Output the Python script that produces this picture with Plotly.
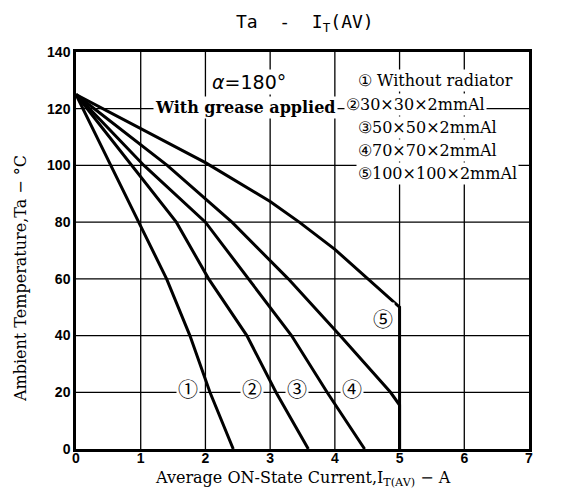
import plotly.graph_objects as go

# ---- data ----
c1_x = [0, 0.54, 0.98, 1.40, 1.76, 2.07, 2.43]
c1_y = [125, 100, 80, 60, 40, 20, 0]
c2_x = [0, 0.86, 1.55, 2.05, 2.64, 3.09, 3.59]
c2_y = [125, 100, 80, 60, 40, 20, 0]
c3_x = [0, 1.05, 2.00, 2.67, 3.33, 3.88, 4.46]
c3_y = [125, 100, 80, 60, 40, 20, 0]
c4_x = [0, 1.41, 2.41, 3.28, 4.08, 4.86, 5.0, 5.0]
c4_y = [125, 100, 80, 60, 40, 20, 15.5, 0]
c5_x = [0, 2.0, 3.0, 3.45, 4.0, 5.0, 5.0]
c5_y = [125, 101, 87.3, 80, 70.4, 50, 0]

curve_labels = ["①", "②", "③", "④", "⑤"]
label_x = [1.73, 2.72, 3.42, 4.27, 4.75]
label_y = [21.5, 21.5, 21.5, 21.5, 46]

legend_lines = ["① Without radiator", "②30×30×2mmAl", "③50×50×2mmAl",
                "④70×70×2mmAl", "⑤100×100×2mmAl"]

x_ticks = [0, 1, 2, 3, 4, 5, 6, 7]
y_ticks = [0, 20, 40, 60, 80, 100, 120, 140]

W, H = 563, 493
L, R, T, B = 68, 42, 44, 52
PW, PH = W - L - R, H - T - B


def px(xp):
    return (xp - L) / PW


def py(yp):
    return (H - B - yp) / PH


fig = go.Figure()
for xs, ys in [(c1_x, c1_y), (c2_x, c2_y), (c3_x, c3_y), (c4_x, c4_y), (c5_x, c5_y)]:
    fig.add_trace(go.Scatter(x=xs, y=ys, mode="lines",
                             line=dict(color="black", width=3),
                             showlegend=False, hoverinfo="skip"))

# grid lines at the tick positions
shapes = []
for xv in x_ticks[1:-1]:
    shapes.append(dict(type="line", xref="x", yref="y", x0=xv, x1=xv,
                       y0=y_ticks[0], y1=y_ticks[-1], layer="below",
                       line=dict(color="black", width=1.3)))
for yv in y_ticks[1:-1]:
    shapes.append(dict(type="line", xref="x", yref="y", x0=x_ticks[0], x1=x_ticks[-1],
                       y0=yv, y1=yv, layer="below",
                       line=dict(color="black", width=1.3)))

serif = "DejaVu Serif"
ann = []
# curve labels
for t, xv, yv in zip(curve_labels, label_x, label_y):
    ann.append(dict(x=xv, y=yv, xref="x", yref="y", text=t, showarrow=False,
                    xanchor="center", yanchor="middle",
                    font=dict(family="Noto Sans CJK JP", size=20, color="black"),
                    bgcolor="white", borderpad=1))

# alpha text
ann.append(dict(x=px(202), y=py(74), xref="paper", yref="paper",
                xanchor="left", yanchor="middle",
                text="<i>α</i>=180°", showarrow=False, bgcolor="white",
                font=dict(family="DejaVu Sans", size=19, color="black")))
ann.append(dict(x=px(145), y=py(99), xref="paper", yref="paper",
                xanchor="left", yanchor="middle",
                text="<b>With grease applied</b>", showarrow=False, bgcolor="white",
                font=dict(family=serif, size=16, color="black")))
leg_y = [73, 96, 119, 142, 165]
leg_x = [348, 336, 348, 348, 348]
for t, xx, yy in zip(legend_lines, leg_x, leg_y):
    ann.append(dict(x=px(xx), y=py(yy), xref="paper", yref="paper",
                    xanchor="left", yanchor="middle",
                    text=t, showarrow=False, bgcolor="white", borderpad=1,
                    font=dict(family=serif, size=16, color="black")))

# title
ann.append(dict(x=px(297), y=py(15), xref="paper", yref="paper",
                xanchor="center", yanchor="middle",
                text="Ta  -  I<sub>T</sub>(AV)", showarrow=False,
                font=dict(family="DejaVu Sans Mono", size=18, color="black")))
# axis titles
ann.append(dict(x=px(295), y=py(470), xref="paper", yref="paper",
                xanchor="center", yanchor="middle",
                text="Average ON-State Current,I<sub>T(AV)</sub> − A", showarrow=False,
                font=dict(family=serif, size=16, color="black")))
ann.append(dict(x=px(12), y=py(271), xref="paper", yref="paper",
                xanchor="center", yanchor="middle", textangle=-90,
                text="Ambient Temperature,Ta − °C", showarrow=False,
                font=dict(family=serif, size=16, color="black")))

fig.update_layout(
    template="none",
    width=W, height=H,
    margin=dict(l=L, r=R, t=T, b=B),
    paper_bgcolor="white", plot_bgcolor="white",
    annotations=ann, shapes=shapes,
    showlegend=False,
)
axis_common = dict(showgrid=False,
                   showline=True, linecolor="black", linewidth=2.5, mirror=True,
                   zeroline=False, ticks="",
                   tickfont=dict(family="Liberation Sans", size=14, color="black", weight="bold"))
fig.update_xaxes(range=[0, 7], tickvals=x_ticks, ticktext=[str(v) for v in x_ticks],
                 ticklabelstandoff=-6, **axis_common)
fig.update_yaxes(range=[0, 140], tickvals=y_ticks, ticktext=[str(v) for v in y_ticks],
                 **axis_common)

fig.write_html("out.html")
